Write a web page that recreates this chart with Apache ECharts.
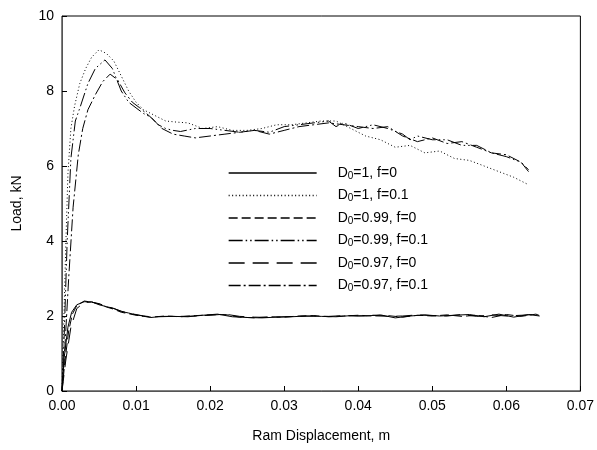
<!DOCTYPE html>
<html>
<head>
<meta charset="utf-8">
<script src="https://cdn.jsdelivr.net/npm/echarts@6/dist/echarts.min.js"></script>
<style>html,body{margin:0;padding:0;background:#fff}#c{width:597px;height:450px}</style>
</head>
<body>
<div id="c"></div>
<script>
// Tick labels
const xTicks = ['0.00','0.01','0.02','0.03','0.04','0.05','0.06','0.07'];
const yTicks = [0,2,4,6,8,10];

// Series names
const names = ['D0=1, f=0','D0=1, f=0.1','D0=0.99, f=0','D0=0.99, f=0.1','D0=0.97, f=0','D0=0.97, f=0.1'];

// D0=1, f=0 (solid)
const s1x = [0,0.0003,0.0008,0.0013,0.002,0.003,0.004,0.005,0.006,0.007,0.008,0.009,0.010,0.011,0.012,0.013,0.015,0.017,0.019,0.021,0.023,0.025,0.027,0.029,0.031,0.033,0.035,0.037,0.039,0.041,0.043,0.045,0.047,0.049,0.051,0.053,0.055,0.057,0.059,0.061,0.063,0.0645];
const s1y = [0,0.9,1.7,2.1,2.3,2.38,2.38,2.3,2.25,2.2,2.12,2.08,2.03,2.0,1.96,1.98,1.99,1.98,2.02,2.05,1.98,1.96,1.95,1.97,1.98,2.0,1.99,1.98,2.01,2.0,2.03,1.95,2.0,2.03,2.0,2.02,2.04,1.98,2.05,1.97,2.04,2.0];

// D0=1, f=0.1 (dotted)
const s2x = [0,0.0002,0.0005,0.0008,0.0012,0.0017,0.0024,0.0032,0.004,0.005,0.006,0.007,0.008,0.009,0.010,0.011,0.012,0.013,0.014,0.0155,0.017,0.019,0.021,0.023,0.025,0.027,0.029,0.031,0.033,0.035,0.037,0.039,0.041,0.043,0.045,0.047,0.049,0.051,0.053,0.055,0.057,0.059,0.061,0.063];
const s2y = [0,1.5,3.8,5.8,7.0,7.6,8.2,8.6,8.9,9.1,9.0,8.8,8.4,8.0,7.7,7.5,7.4,7.3,7.2,7.17,7.15,7.0,7.05,6.95,6.95,7.0,7.1,7.1,7.15,7.2,7.2,7.0,6.8,6.7,6.5,6.55,6.35,6.4,6.2,6.15,6.0,5.85,5.7,5.5];

// D0=0.99, f=0 (dashed)
const s3x = [0,0.0004,0.0009,0.0014,0.002,0.003,0.004,0.005,0.006,0.007,0.008,0.009,0.010,0.011,0.012,0.014,0.016,0.018,0.020,0.022,0.024,0.026,0.028,0.030,0.032,0.034,0.036,0.038,0.040,0.042,0.044,0.046,0.048,0.050,0.052,0.054,0.056,0.058,0.060,0.062,0.064,0.0645];
const s3y = [0,0.8,1.6,2.05,2.28,2.4,2.37,2.32,2.24,2.18,2.1,2.06,2.02,1.99,1.97,2.0,1.98,2.01,2.03,2.04,1.97,1.95,1.98,1.97,2.0,2.01,1.98,2.0,2.02,2.0,2.01,1.97,2.02,2.0,2.03,1.99,2.02,1.96,2.04,1.99,2.05,2.01];

// D0=0.99, f=0.1 (dash-dot-dot)
const s4x = [0,0.0003,0.0007,0.0012,0.0018,0.0025,0.0035,0.0045,0.0058,0.0068,0.008,0.009,0.010,0.011,0.012,0.013,0.014,0.015,0.016,0.018,0.020,0.022,0.024,0.026,0.028,0.030,0.032,0.034,0.036,0.037,0.038,0.040,0.042,0.044,0.046,0.047,0.048,0.050,0.052,0.054,0.056,0.058,0.060,0.062,0.063];
const s4y = [0,1.5,4.0,6.2,7.2,7.6,8.2,8.6,8.83,8.6,8.0,7.7,7.55,7.4,7.3,7.1,7.0,6.95,6.92,7.0,7.0,6.95,6.9,6.95,6.9,7.05,7.1,7.15,7.2,7.05,7.15,7.0,7.1,7.0,6.85,6.7,6.8,6.7,6.7,6.55,6.55,6.35,6.25,6.1,5.85];

// D0=0.97, f=0 (long dash)
const s5x = [0,0.0005,0.0012,0.002,0.003,0.004,0.005,0.006,0.007,0.008,0.009,0.010,0.011,0.012,0.014,0.016,0.018,0.020,0.022,0.024,0.026,0.028,0.030,0.032,0.034,0.036,0.038,0.040,0.042,0.044,0.046,0.048,0.050,0.052,0.054,0.056,0.058,0.060,0.062,0.064,0.0645];
const s5y = [0,0.8,1.7,2.2,2.36,2.37,2.33,2.26,2.2,2.13,2.07,2.04,2.0,1.98,1.99,1.99,2.0,2.02,2.05,1.99,1.97,1.96,1.98,1.99,2.0,1.99,2.01,2.0,2.02,1.99,2.0,2.03,2.01,2.0,2.04,1.99,2.03,2.0,2.02,2.04,2.0];

// D0=0.97, f=0.1 (dash-dot)
const s6x = [0,0.0004,0.0009,0.0015,0.0022,0.0028,0.0035,0.0045,0.0055,0.0065,0.0075,0.0085,0.0095,0.0105,0.012,0.0135,0.015,0.0165,0.018,0.020,0.022,0.024,0.026,0.028,0.030,0.032,0.034,0.036,0.038,0.040,0.042,0.044,0.046,0.048,0.050,0.052,0.054,0.056,0.058,0.060,0.062,0.063];
const s6y = [0,1.2,3.0,4.9,6.3,7.0,7.5,7.9,8.25,8.45,8.3,7.95,7.7,7.55,7.3,7.0,6.85,6.8,6.75,6.8,6.85,6.9,6.95,6.85,6.95,7.05,7.1,7.15,7.1,7.05,7.0,7.05,6.8,6.65,6.75,6.6,6.65,6.5,6.35,6.3,6.1,5.9];

const xs = [s1x,s2x,s3x,s4x,s5x,s6x];
const ys = [s1y,s2y,s3y,s4y,s5y,s6y];
const dashes = ['solid',[1,2.5],[9,4],[14,3,1.5,3,1.5,3],[16,8],[12,3,2,3]];

const FONT = 'Liberation Sans, Arial, sans-serif';
const chart = echarts.init(document.getElementById('c'), null, {renderer:'canvas'});

const series = names.map((n,i)=>({
  name:n, type:'line', symbol:'none', animation:false,
  data: xs[i].map((x,j)=>[x, ys[i][j]]),
  lineStyle:{color:'#000', width:1, type:dashes[i]},
  itemStyle:{color:'#000'}
}));

chart.setOption({
  animation:false,
  backgroundColor:'#fff',
  grid:{left:62, right:14, top:16, bottom:59, show:true, borderColor:'#000', borderWidth:1},
  xAxis:{
    type:'value', min:0, max:0.07, interval:0.01,
    name:'Ram Displacement, m', nameLocation:'middle', nameGap:38,
    nameTextStyle:{fontFamily:FONT, fontSize:14, color:'#000'},
    axisLine:{lineStyle:{color:'#555'}},
    axisTick:{inside:true, length:5, lineStyle:{color:'#000'}},
    axisLabel:{fontFamily:FONT, fontSize:14, color:'#000', margin:8,
      formatter:(v)=>xTicks[Math.round(v*100)]},
    splitLine:{show:false}
  },
  yAxis:{
    type:'value', min:0, max:10, interval:2,
    name:'Load, kN', nameLocation:'middle', nameGap:38,
    nameTextStyle:{fontFamily:FONT, fontSize:14, color:'#000'},
    axisLine:{lineStyle:{color:'#555'}},
    axisTick:{inside:true, length:5, lineStyle:{color:'#000'}},
    axisLabel:{fontFamily:FONT, fontSize:14, color:'#000', margin:8,
      formatter:(v)=>String(yTicks[Math.round(v/2)])},
    splitLine:{show:false}
  },
  legend:{
    orient:'vertical', left:228, top:166, padding:0,
    itemWidth:88, itemHeight:10, itemGap:7.5,
    itemStyle:{opacity:0},
    lineStyle:{width:1.3, color:'#000'},
    data:names,
    formatter:(n)=>'{p|D}{s|0}{n|' + n.slice(2) + '}',
    textStyle:{fontFamily:FONT, fontSize:14, color:'#000',
      rich:{
        p:{fontFamily:FONT, fontSize:14, color:'#000', padding:[0,0,0,16]},
        s:{fontFamily:FONT, fontSize:10, color:'#000', verticalAlign:'bottom', padding:[6,0,0,0]},
        n:{fontFamily:FONT, fontSize:14, color:'#000'}
      }}
  },
  series: series
});
</script>
</body>
</html>
